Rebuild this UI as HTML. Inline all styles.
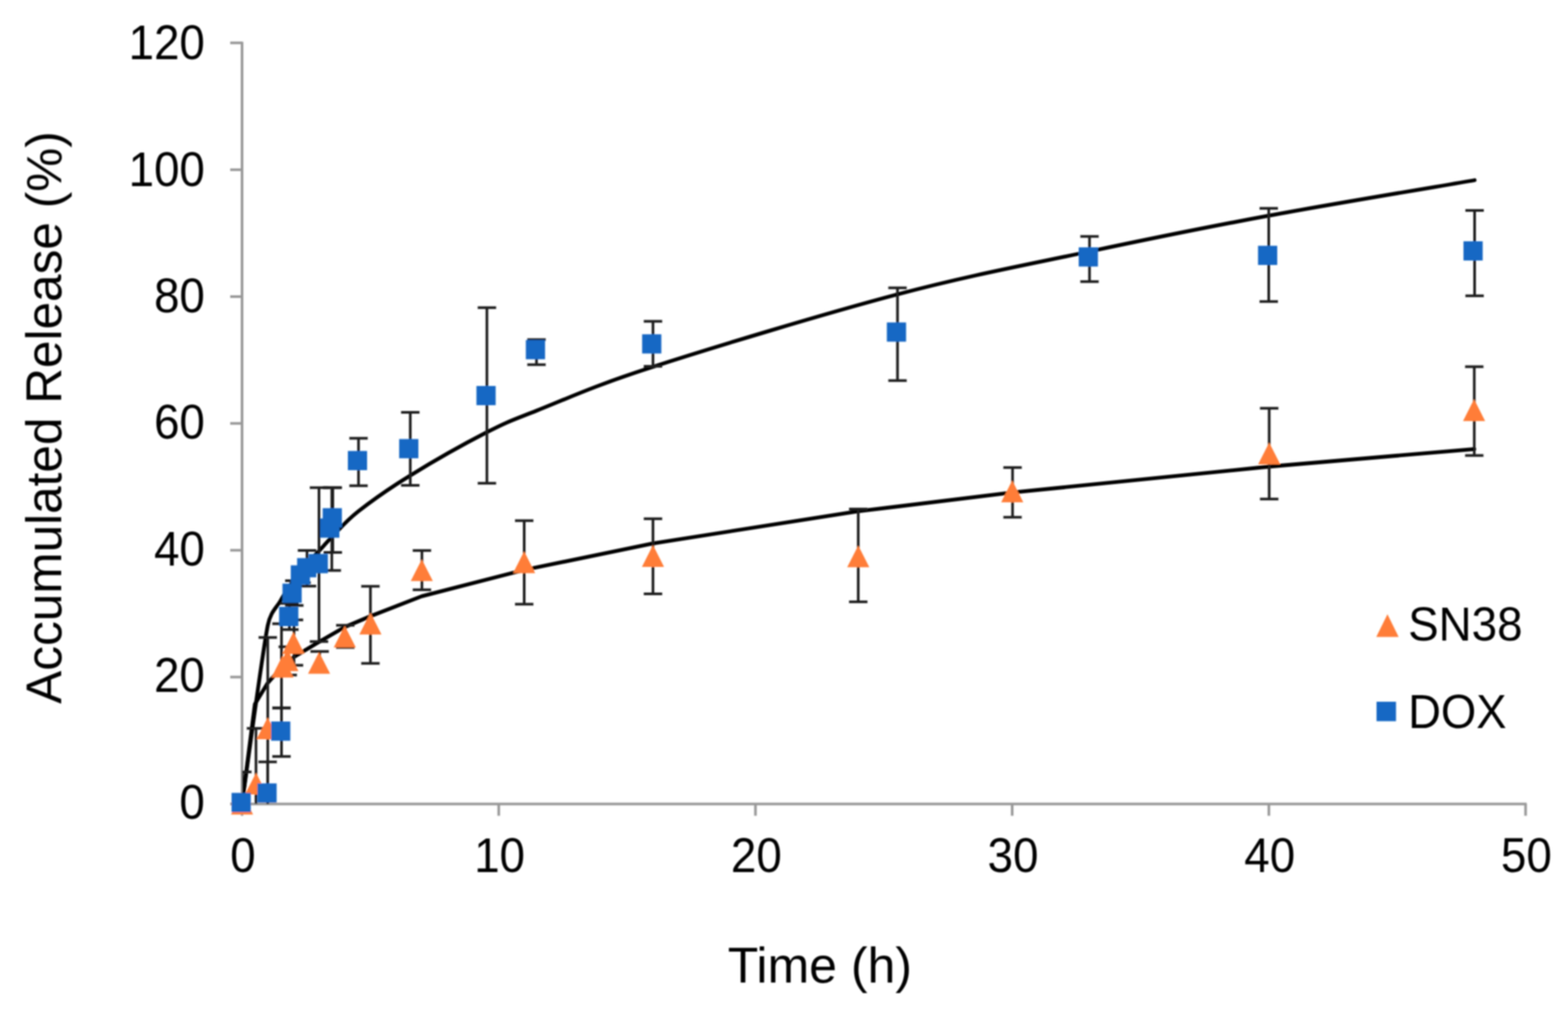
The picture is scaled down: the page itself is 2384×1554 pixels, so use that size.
<!DOCTYPE html><html><head><meta charset="utf-8"><title>Accumulated Release</title><style>html,body{margin:0;padding:0;background:#fff;}svg{display:block;}text{font-family:"Liberation Sans", Arial, sans-serif;fill:#000;}</style></head><body>
<svg width="2384" height="1554" viewBox="0 0 2384 1554">
<rect width="2384" height="1554" fill="#fff"/>
<defs><filter id="bl" filterUnits="userSpaceOnUse" x="0" y="0" width="2384" height="1554"><feGaussianBlur stdDeviation="0.8"/></filter></defs>
<g filter="url(#bl)">
<defs><clipPath id="pa"><rect x="368.0" y="40" width="1962.0" height="1182.4"/></clipPath></defs>
<g stroke="#999999" stroke-width="4" fill="none" stroke-linecap="butt">
<line x1="368.0" y1="63.6" x2="368.0" y2="1224.1"/>
<line x1="350.0" y1="1222.4" x2="2321.2" y2="1222.4"/>
<line x1="350.0" y1="1222.4" x2="368.0" y2="1222.4"/>
<line x1="350.0" y1="1029.5" x2="368.0" y2="1029.5"/>
<line x1="350.0" y1="836.7" x2="368.0" y2="836.7"/>
<line x1="350.0" y1="643.8" x2="368.0" y2="643.8"/>
<line x1="350.0" y1="451.0" x2="368.0" y2="451.0"/>
<line x1="350.0" y1="258.1" x2="368.0" y2="258.1"/>
<line x1="350.0" y1="65.2" x2="368.0" y2="65.2"/>
<line x1="368.0" y1="1222.4" x2="368.0" y2="1240.4"/>
<line x1="758.3" y1="1222.4" x2="758.3" y2="1240.4"/>
<line x1="1148.6" y1="1222.4" x2="1148.6" y2="1240.4"/>
<line x1="1538.9" y1="1222.4" x2="1538.9" y2="1240.4"/>
<line x1="1929.2" y1="1222.4" x2="1929.2" y2="1240.4"/>
<line x1="2319.5" y1="1222.4" x2="2319.5" y2="1240.4"/>
</g>
<g font-size="74" text-anchor="end">
<text transform="translate(311.50,1244.55) scale(0.940,1)">0</text>
<text transform="translate(311.50,1052.15) scale(0.940,1)">20</text>
<text transform="translate(311.50,859.75) scale(0.940,1)">40</text>
<text transform="translate(311.50,667.35) scale(0.940,1)">60</text>
<text transform="translate(311.50,474.95) scale(0.940,1)">80</text>
<text transform="translate(311.50,282.55) scale(0.940,1)">100</text>
<text transform="translate(311.50,90.15) scale(0.940,1)">120</text>
</g>
<g font-size="74" text-anchor="middle">
<text transform="translate(369.30,1325.50) scale(0.940,1)">0</text>
<text transform="translate(759.60,1325.50) scale(0.940,1)">10</text>
<text transform="translate(1149.90,1325.50) scale(0.940,1)">20</text>
<text transform="translate(1540.20,1325.50) scale(0.940,1)">30</text>
<text transform="translate(1930.50,1325.50) scale(0.940,1)">40</text>
<text transform="translate(2320.80,1325.50) scale(0.940,1)">50</text>
</g>
<text font-size="75.3" text-anchor="middle" transform="translate(93,634.9) rotate(-90)">Accumulated Release (%)</text>
<text font-size="76" text-anchor="middle" x="1246.5" y="1494.2">Time (h)</text>
<g clip-path="url(#pa)">
<g fill="none" stroke="#000" stroke-width="5.8" stroke-linecap="round" stroke-linejoin="round">
<path d="M368.00,1222.40 C374.50,1177.22 397.27,1002.85 407.03,951.34 C411.01,930.33 420.85,923.49 426.55,913.29 C432.24,903.09 437.93,895.16 441.18,890.12 C443.50,886.54 443.53,886.55 446.06,883.11 C449.04,879.04 455.80,869.99 459.06,865.75 C462.22,861.63 462.04,861.47 465.57,857.67 C469.95,852.98 478.80,844.46 485.30,837.60 C491.80,830.74 494.63,826.55 504.60,816.50 C514.57,806.45 525.28,792.85 545.10,777.30 C564.92,761.75 590.97,743.22 623.50,723.20 C656.03,703.18 708.27,673.65 740.30,657.20 C772.33,640.75 777.47,639.58 815.70,624.50 C857.67,607.95 902.37,586.82 992.10,557.90 C1083.62,528.40 1254.15,476.73 1364.80,447.50 C1475.45,418.27 1561.93,402.43 1656.00,382.50 C1750.07,362.57 1831.53,345.98 1929.20,327.90 C2026.87,309.82 2189.87,282.98 2242.00,274.00"/>
<polyline points="368.00,1222.40 387.51,1070.84 407.03,1038.60 426.55,1016.66 436.30,1007.64 446.06,999.51 485.09,976.00 524.12,953.50 563.15,937.00 641.21,906.58 797.33,866.50 992.48,826.30 1304.72,777.45 1538.90,748.95 1929.20,709.51 2241.44,682.82"/>
</g>
<g stroke="#1e1e1e" stroke-width="4.0" fill="none">
<line x1="389.20" y1="1107.40" x2="389.20" y2="1222.40"/><line x1="375.20" y1="1107.40" x2="403.20" y2="1107.40"/>
<line x1="407.10" y1="969.30" x2="407.10" y2="1222.40"/><line x1="393.10" y1="969.30" x2="421.10" y2="969.30"/>
<line x1="428.00" y1="948.40" x2="428.00" y2="1076.60"/><line x1="414.00" y1="948.40" x2="442.00" y2="948.40"/><line x1="414.00" y1="1076.60" x2="442.00" y2="1076.60"/>
<line x1="437.50" y1="983.50" x2="437.50" y2="1026.40"/><line x1="423.50" y1="983.50" x2="451.50" y2="983.50"/><line x1="423.50" y1="1026.40" x2="451.50" y2="1026.40"/>
<line x1="447.00" y1="942.60" x2="447.00" y2="1011.60"/><line x1="433.00" y1="942.60" x2="461.00" y2="942.60"/><line x1="433.00" y1="1011.60" x2="461.00" y2="1011.60"/>
<line x1="486.00" y1="990.60" x2="486.00" y2="1022.00"/><line x1="472.00" y1="990.60" x2="500.00" y2="990.60"/><line x1="472.00" y1="1022.00" x2="500.00" y2="1022.00"/>
<line x1="525.00" y1="950.80" x2="525.00" y2="984.50"/><line x1="511.00" y1="950.80" x2="539.00" y2="950.80"/><line x1="511.00" y1="984.50" x2="539.00" y2="984.50"/>
<line x1="563.20" y1="891.50" x2="563.20" y2="1008.70"/><line x1="549.20" y1="891.50" x2="577.20" y2="891.50"/><line x1="549.20" y1="1008.70" x2="577.20" y2="1008.70"/>
<line x1="641.50" y1="837.10" x2="641.50" y2="896.80"/><line x1="627.50" y1="837.10" x2="655.50" y2="837.10"/><line x1="627.50" y1="896.80" x2="655.50" y2="896.80"/>
<line x1="797.00" y1="791.70" x2="797.00" y2="918.70"/><line x1="783.00" y1="791.70" x2="811.00" y2="791.70"/><line x1="783.00" y1="918.70" x2="811.00" y2="918.70"/>
<line x1="992.80" y1="788.80" x2="992.80" y2="903.00"/><line x1="978.80" y1="788.80" x2="1006.80" y2="788.80"/><line x1="978.80" y1="903.00" x2="1006.80" y2="903.00"/>
<line x1="1304.90" y1="774.00" x2="1304.90" y2="915.10"/><line x1="1290.90" y1="774.00" x2="1318.90" y2="774.00"/><line x1="1290.90" y1="915.10" x2="1318.90" y2="915.10"/>
<line x1="1539.50" y1="710.90" x2="1539.50" y2="786.50"/><line x1="1525.50" y1="710.90" x2="1553.50" y2="710.90"/><line x1="1525.50" y1="786.50" x2="1553.50" y2="786.50"/>
<line x1="1929.70" y1="620.80" x2="1929.70" y2="758.80"/><line x1="1915.70" y1="620.80" x2="1943.70" y2="620.80"/><line x1="1915.70" y1="758.80" x2="1943.70" y2="758.80"/>
<line x1="2241.50" y1="557.60" x2="2241.50" y2="692.60"/><line x1="2227.50" y1="557.60" x2="2255.50" y2="557.60"/><line x1="2227.50" y1="692.60" x2="2255.50" y2="692.60"/>
</g>
</g>
<g fill="#FF7D37">
<polygon points="368.00,1205.40 384.80,1238.60 351.20,1238.60"/>
<polygon points="389.30,1174.90 406.10,1208.10 372.50,1208.10"/>
<polygon points="407.00,1090.80 423.80,1124.00 390.20,1124.00"/>
<polygon points="429.50,997.00 446.30,1030.20 412.70,1030.20"/>
<polygon points="437.00,987.20 453.80,1020.40 420.20,1020.40"/>
<polygon points="446.10,961.00 462.90,994.20 429.30,994.20"/>
<polygon points="485.10,991.40 501.90,1024.60 468.30,1024.60"/>
<polygon points="524.20,951.40 541.00,984.60 507.40,984.60"/>
<polygon points="563.20,931.60 580.00,964.80 546.40,964.80"/>
<polygon points="641.30,850.40 658.10,883.60 624.50,883.60"/>
<polygon points="796.90,838.20 813.70,871.40 780.10,871.40"/>
<polygon points="992.80,828.80 1009.60,862.00 976.00,862.00"/>
<polygon points="1304.90,829.40 1321.70,862.60 1288.10,862.60"/>
<polygon points="1539.00,730.60 1555.80,763.80 1522.20,763.80"/>
<polygon points="1929.70,672.90 1946.50,706.10 1912.90,706.10"/>
<polygon points="2241.20,607.00 2258.00,640.20 2224.40,640.20"/>
</g>
<g clip-path="url(#pa)" stroke="#1e1e1e" stroke-width="4.0" fill="none">
<line x1="368.50" y1="1173.70" x2="368.50" y2="1222.40"/><line x1="354.50" y1="1173.70" x2="382.50" y2="1173.70"/>
<line x1="406.90" y1="1158.60" x2="406.90" y2="1222.40"/><line x1="392.90" y1="1158.60" x2="420.90" y2="1158.60"/>
<line x1="428.00" y1="1076.40" x2="428.00" y2="1150.20"/><line x1="414.00" y1="1076.40" x2="442.00" y2="1076.40"/><line x1="414.00" y1="1150.20" x2="442.00" y2="1150.20"/>
<line x1="440.00" y1="917.50" x2="440.00" y2="957.30"/><line x1="426.00" y1="917.50" x2="454.00" y2="917.50"/><line x1="426.00" y1="957.30" x2="454.00" y2="957.30"/>
<line x1="447.50" y1="883.00" x2="447.50" y2="920.60"/><line x1="433.50" y1="883.00" x2="461.50" y2="883.00"/><line x1="433.50" y1="920.60" x2="461.50" y2="920.60"/>
<line x1="458.50" y1="862.00" x2="458.50" y2="886.00"/><line x1="444.50" y1="862.00" x2="472.50" y2="862.00"/><line x1="444.50" y1="886.00" x2="472.50" y2="886.00"/>
<line x1="466.80" y1="837.00" x2="466.80" y2="891.20"/><line x1="452.80" y1="837.00" x2="480.80" y2="837.00"/><line x1="452.80" y1="891.20" x2="480.80" y2="891.20"/>
<line x1="485.00" y1="741.50" x2="485.00" y2="975.50"/><line x1="471.00" y1="741.50" x2="499.00" y2="741.50"/><line x1="471.00" y1="975.50" x2="499.00" y2="975.50"/>
<line x1="504.50" y1="741.50" x2="504.50" y2="867.40"/><line x1="490.50" y1="741.50" x2="518.50" y2="741.50"/><line x1="490.50" y1="867.40" x2="518.50" y2="867.40"/>
<line x1="506.00" y1="741.50" x2="506.00" y2="840.00"/><line x1="492.00" y1="741.50" x2="520.00" y2="741.50"/><line x1="492.00" y1="840.00" x2="520.00" y2="840.00"/>
<line x1="545.10" y1="666.40" x2="545.10" y2="738.60"/><line x1="531.10" y1="666.40" x2="559.10" y2="666.40"/><line x1="531.10" y1="738.60" x2="559.10" y2="738.60"/>
<line x1="623.80" y1="627.00" x2="623.80" y2="738.00"/><line x1="609.80" y1="627.00" x2="637.80" y2="627.00"/><line x1="609.80" y1="738.00" x2="637.80" y2="738.00"/>
<line x1="740.30" y1="467.80" x2="740.30" y2="734.80"/><line x1="726.30" y1="467.80" x2="754.30" y2="467.80"/><line x1="726.30" y1="734.80" x2="754.30" y2="734.80"/>
<line x1="815.70" y1="516.40" x2="815.70" y2="554.50"/><line x1="801.70" y1="516.40" x2="829.70" y2="516.40"/><line x1="801.70" y1="554.50" x2="829.70" y2="554.50"/>
<line x1="992.80" y1="488.60" x2="992.80" y2="557.00"/><line x1="978.80" y1="488.60" x2="1006.80" y2="488.60"/><line x1="978.80" y1="557.00" x2="1006.80" y2="557.00"/>
<line x1="1364.60" y1="437.70" x2="1364.60" y2="578.70"/><line x1="1350.60" y1="437.70" x2="1378.60" y2="437.70"/><line x1="1350.60" y1="578.70" x2="1378.60" y2="578.70"/>
<line x1="1656.50" y1="359.50" x2="1656.50" y2="428.20"/><line x1="1642.50" y1="359.50" x2="1670.50" y2="359.50"/><line x1="1642.50" y1="428.20" x2="1670.50" y2="428.20"/>
<line x1="1929.00" y1="316.80" x2="1929.00" y2="458.50"/><line x1="1915.00" y1="316.80" x2="1943.00" y2="316.80"/><line x1="1915.00" y1="458.50" x2="1943.00" y2="458.50"/>
<line x1="2242.00" y1="320.00" x2="2242.00" y2="449.80"/><line x1="2228.00" y1="320.00" x2="2256.00" y2="320.00"/><line x1="2228.00" y1="449.80" x2="2256.00" y2="449.80"/>
</g>
<g fill="#1767C4">
<rect x="352.10" y="1205.60" width="29.20" height="29.20"/>
<rect x="391.40" y="1191.20" width="29.20" height="29.20"/>
<rect x="412.20" y="1097.10" width="29.20" height="29.20"/>
<rect x="424.40" y="922.80" width="29.20" height="29.20"/>
<rect x="429.50" y="887.40" width="29.20" height="29.20"/>
<rect x="442.10" y="859.60" width="29.20" height="29.20"/>
<rect x="451.70" y="848.60" width="29.20" height="29.20"/>
<rect x="469.30" y="842.40" width="29.20" height="29.20"/>
<rect x="486.80" y="788.40" width="29.20" height="29.20"/>
<rect x="490.60" y="772.70" width="29.20" height="29.20"/>
<rect x="528.90" y="685.70" width="29.20" height="29.20"/>
<rect x="606.90" y="667.60" width="29.20" height="29.20"/>
<rect x="724.40" y="586.90" width="29.20" height="29.20"/>
<rect x="799.50" y="517.10" width="29.20" height="29.20"/>
<rect x="976.30" y="508.30" width="29.20" height="29.20"/>
<rect x="1348.40" y="490.30" width="29.20" height="29.20"/>
<rect x="1640.10" y="376.10" width="29.20" height="29.20"/>
<rect x="1912.70" y="373.70" width="29.20" height="29.20"/>
<rect x="2225.10" y="366.90" width="29.20" height="29.20"/>
</g>
<g fill="#FF7D37"><polygon points="2109.50,933.95 2126.50,968.45 2092.50,968.45"/></g>
<g fill="#1767C4"><rect x="2092.90" y="1067.00" width="29.60" height="29.60"/></g>
<text font-size="72" transform="translate(2141,973.5) scale(0.965,1)">SN38</text>
<text font-size="73" transform="translate(2141,1106.5) scale(0.945,1)">DOX</text>
</g>
</svg></body></html>
